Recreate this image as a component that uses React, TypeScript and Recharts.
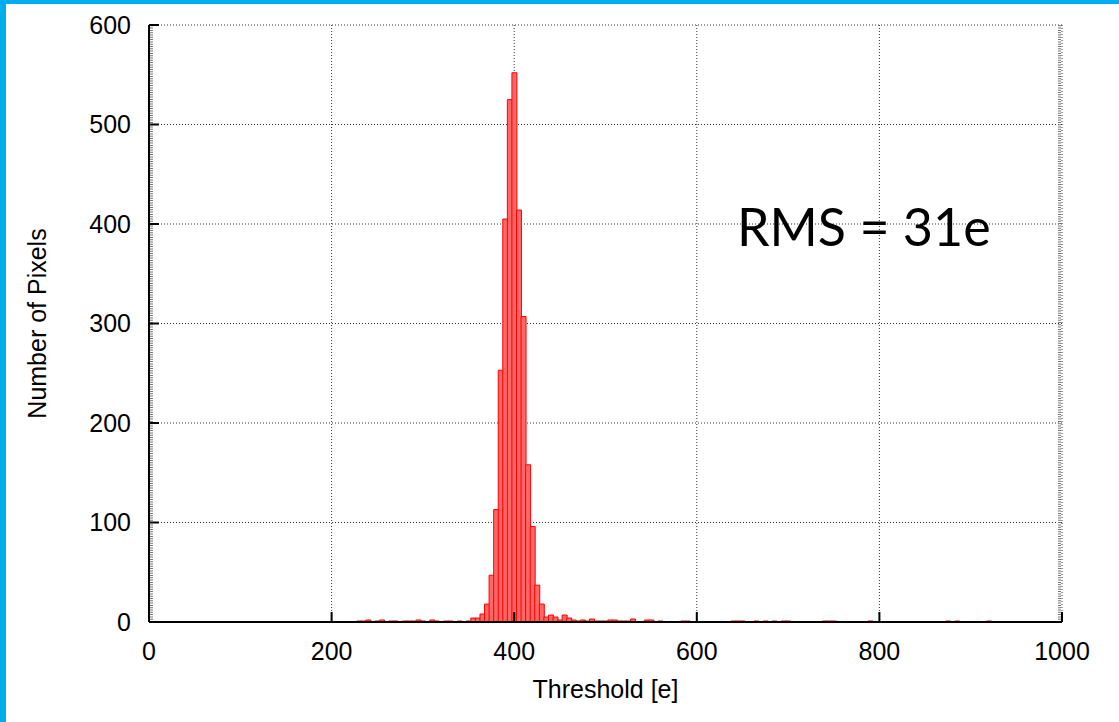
import { BarChart, Bar, XAxis, YAxis, CartesianGrid, Label, ReferenceLine } from 'recharts';

// threshold histogram, 5 e bins (only non-empty bins listed)
const binCenters = [
  230, 235, 240, 250, 255, 265, 270, 280, 285, 290, 295, 300, 310, 315, 325, 330, 340, 350,
  355, 360, 365, 370, 375, 380, 385, 390, 395, 400, 405, 410, 415, 420, 425, 430, 435, 440,
  445, 450, 455, 460, 465, 470, 475, 480, 485, 490, 495, 500, 505, 510, 515, 520, 525, 530,
  545, 550, 560, 585, 590, 640, 645, 650, 665, 675, 685, 695, 700, 740, 745, 750, 790, 875,
  885, 920,
];
const pixelCounts = [
  1, 1, 2, 1, 2, 1, 1, 1, 1, 1, 2, 1, 2, 1, 1, 1, 1, 1,
  4, 4, 8, 18, 47, 113, 253, 405, 525, 552, 414, 307, 158, 96, 37, 18, 5, 7,
  5, 2, 7, 4, 2, 1, 2, 1, 3, 1, 1, 1, 2, 2, 1, 1, 1, 3,
  2, 2, 1, 1, 1, 1, 1, 1, 1, 1, 1, 1, 1, 1, 1, 1, 1, 1,
  1, 1,
];
const xTicks = [0, 200, 400, 600, 800, 1000];
const yTicks = [0, 100, 200, 300, 400, 500, 600];

const data = binCenters.map((bin, i) => ({ bin, count: pixelCounts[i] }));

const FONT = '"Liberation Sans", Arial, sans-serif';
const TICK_LEN = 10;

const BottomTick = (props: any) => {
  const { x, y, payload } = props;
  const axisY = y - 20;
  return (
    <g>
      <line x1={x} x2={x} y1={axisY} y2={axisY - TICK_LEN} stroke="#000" strokeWidth={2} />
      <text x={x} y={y} dy="0.71em" textAnchor="middle" fontFamily={FONT} fontSize={25} fill="#000">
        {payload.value}
      </text>
    </g>
  );
};

const LeftTick = (props: any) => {
  const { x, y, payload } = props;
  const axisX = x + 18;
  return (
    <g>
      <line x1={axisX} x2={axisX + TICK_LEN} y1={y} y2={y} stroke="#000" strokeWidth={2} />
      <text x={x} y={y} dy="0.355em" textAnchor="end" fontFamily={FONT} fontSize={25} fill="#000">
        {payload.value}
      </text>
    </g>
  );
};

const TopTick = (props: any) => {
  const { x, y } = props;
  return <line x1={x} x2={x} y1={y} y2={y + TICK_LEN} stroke="#000" strokeWidth={2} />;
};

const RightTick = (props: any) => {
  const { x, y } = props;
  return <line x1={x} x2={x - TICK_LEN} y1={y} y2={y} stroke="#000" strokeWidth={2} />;
};

// dense minor ticks drawn just inside the left / right frame
const minorTicks = (shift: number) => (p: any) => (
  <line
    x1={p.x1 + shift}
    x2={p.x2 + shift}
    y1={p.y1}
    y2={p.y2}
    stroke="#777"
    strokeWidth={3}
    strokeDasharray="1 1.3"
  />
);

export default function App() {
  return (
    <div
      style={{
        position: 'fixed',
        left: 0,
        top: 0,
        width: 1119,
        height: 722,
        background: '#fff',
        overflow: 'hidden',
      }}
    >
      <BarChart
        width={1119}
        height={722}
        data={data}
        margin={{ top: 25, right: 57, bottom: 0, left: 0 }}
        barCategoryGap={0}
        barGap={0}
      >
        <CartesianGrid stroke="#333" strokeDasharray="1 2" />
        <XAxis
          dataKey="bin"
          type="number"
          domain={[0, 1000]}
          allowDataOverflow
          ticks={xTicks}
          height={100}
          tickSize={0}
          tickMargin={20}
          tickLine={false}
          axisLine={{ stroke: '#000', strokeWidth: 2 }}
          tick={<BottomTick />}
          interval={0}
        >
          <Label
            value="Threshold [e]"
            position="insideBottom"
            offset={24}
            style={{ fontFamily: FONT, fontSize: 25, fill: '#000' }}
          />
        </XAxis>
        <XAxis
          xAxisId="top"
          orientation="top"
          type="number"
          domain={[0, 1000]}
          allowDataOverflow
          ticks={xTicks}
          height={0}
          tickSize={0}
          tickMargin={0}
          tickLine={false}
          axisLine={{ stroke: '#000', strokeWidth: 2 }}
          tick={<TopTick />}
          interval={0}
        />
        <YAxis
          type="number"
          domain={[0, 600]}
          allowDataOverflow
          ticks={yTicks}
          width={149}
          tickSize={0}
          tickMargin={18}
          tickLine={false}
          axisLine={{ stroke: '#000', strokeWidth: 2 }}
          tick={<LeftTick />}
          interval={0}
        >
          <Label
            value="Number of Pixels"
            angle={-90}
            position="insideLeft"
            offset={37}
            style={{ fontFamily: FONT, fontSize: 25, fill: '#000', textAnchor: 'middle' }}
          />
        </YAxis>
        <YAxis
          yAxisId="right"
          orientation="right"
          type="number"
          domain={[0, 600]}
          allowDataOverflow
          ticks={yTicks}
          width={0}
          tickSize={0}
          tickMargin={0}
          tickLine={false}
          axisLine={{ stroke: '#000', strokeWidth: 2 }}
          tick={<RightTick />}
          interval={0}
        />
        <ReferenceLine x={0} shape={minorTicks(2.5)} />
        <ReferenceLine x={1000} shape={minorTicks(-2.5)} />
        <Bar
          dataKey="count"
          fill="#ff6666"
          stroke="#ff0000"
          strokeWidth={1}
          isAnimationActive={false}
        />
      </BarChart>
      <div
        style={{
          position: 'absolute',
          left: 737,
          top: 196,
          fontFamily: 'Lato, "Open Sans", sans-serif',
          fontSize: 52,
          lineHeight: '60px',
          color: '#000',
          whiteSpace: 'nowrap',
        }}
      >
        RMS = 31e
      </div>
      <div style={{ position: 'absolute', left: 0, top: 0, width: 1119, height: 4, background: '#00aeef' }} />
      <div style={{ position: 'absolute', left: 0, top: 0, width: 6, height: 722, background: '#00aeef' }} />
    </div>
  );
}
